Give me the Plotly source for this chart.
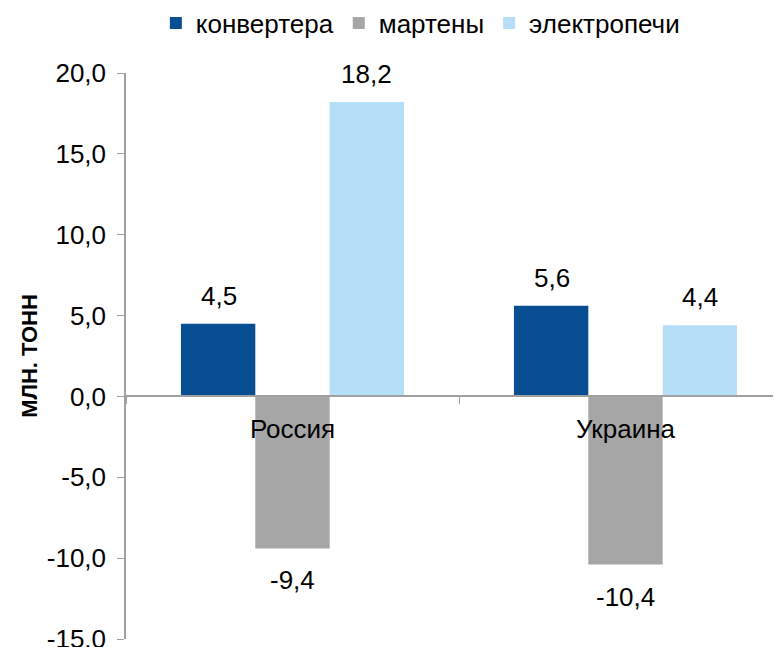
import plotly.graph_objects as go

categories = ["Россия", "Украина"]
series_names = ["конвертера", "мартены", "электропечи"]
konverter = [4.5, 5.6]
marteny = [-9.4, -10.4]
elektro = [18.2, 4.4]
colors = ["#074E92", "#A6A6A6", "#B5DFF7"]
y_ticks = [-15, -10, -5, 0, 5, 10, 15, 20]

def fmt(v):
    return f"{v:.1f}".replace(".", ",")

FONT = "Liberation Sans, Arial, sans-serif"
FS = 26

fig = go.Figure()
all_series = [konverter, marteny, elektro]
for name, vals, col in zip(series_names, all_series, colors):
    fig.add_trace(go.Bar(x=categories, y=vals, name=name, marker=dict(color=col, line=dict(width=0))))

# value labels
bar_px = 74
for i, vals in enumerate(all_series):
    for c, v in zip(categories, vals):
        fig.add_annotation(x=c, y=v, text=fmt(v), showarrow=False,
                           xshift=(i - 1) * bar_px,
                           yshift=28 if v >= 0 else -32,
                           font=dict(size=FS, color="#000", family=FONT))

y0_frac = 15 / 35.0
fig.update_layout(
    width=781, height=647,
    margin=dict(l=118, r=0, t=65, b=16),
    paper_bgcolor="white", plot_bgcolor="white",
    barmode="group", bargap=0.33, bargroupgap=0,
    font=dict(family=FONT, size=FS, color="#000"),
    legend=dict(orientation="h", x=0.528, xanchor="center", xref="container",
                y=1 - 15 / 647, yanchor="middle", yref="container",
                font=dict(size=FS, family=FONT),
                itemwidth=30, traceorder="normal"),
    showlegend=True,
)
fig.update_xaxes(range=[-0.5, 1.491], anchor="free", position=y0_frac, automargin=False,
                 tickangle=0,
                 showline=True, linecolor="#A0A0A0", linewidth=1.5,
                 ticks="outside", tickson="boundaries", ticklen=7, tickcolor="#A0A0A0",
                 showgrid=False, tickfont=dict(size=FS, family=FONT),
                 ticklabelstandoff=10)
fig.update_yaxes(range=[-15, 20], tickvals=y_ticks, ticktext=[fmt(t) for t in y_ticks],
                 automargin=False,
                 showline=True, linecolor="#A0A0A0", linewidth=1.5,
                 ticks="outside", ticklen=7, tickcolor="#A0A0A0",
                 showgrid=False, zeroline=False,
                 tickfont=dict(size=FS, family=FONT), ticklabelstandoff=6,
                 title=dict(text="<b>МЛН. ТОНН</b>", font=dict(size=22, family=FONT), standoff=3))
fig.write_html("out.html")
